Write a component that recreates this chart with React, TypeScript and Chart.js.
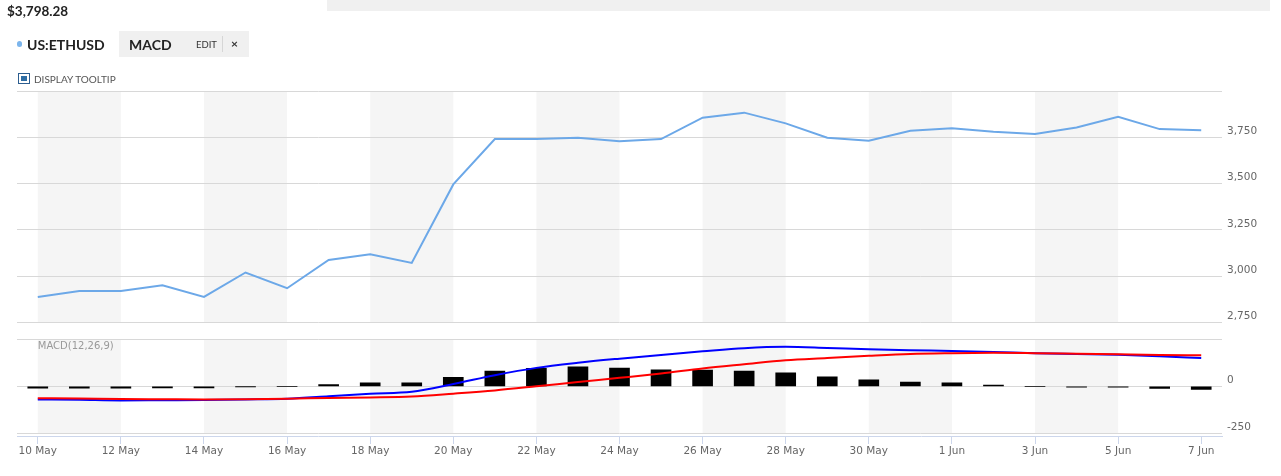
import React, { useEffect, useRef } from "react";
import { Chart, registerables } from "chart.js";

Chart.register(...registerables);

// ---- data (one entry per day, 10 May .. 7 Jun) ----
const dates = [
  "10 May", "11 May", "12 May", "13 May", "14 May", "15 May", "16 May", "17 May",
  "18 May", "19 May", "20 May", "21 May", "22 May", "23 May", "24 May", "25 May",
  "26 May", "27 May", "28 May", "29 May", "30 May", "31 May", "1 Jun", "2 Jun",
  "3 Jun", "4 Jun", "5 Jun", "6 Jun", "7 Jun",
];
const priceValues = [
  2887, 2919, 2919, 2950, 2887, 3019, 2934, 3087, 3118, 3071, 3495, 3740, 3740, 3747,
  3729, 3740, 3856, 3883, 3825, 3747, 3731, 3785, 3798, 3780, 3767, 3803, 3861, 3794, 3788,
];
const macdValues = [
  -70, -72, -75, -74, -73, -70, -66, -53, -39, -29, 12, 59, 98, 125, 147, 167, 186, 203,
  210, 204, 197, 192, 188, 183, 176, 172, 168, 160, 150,
];
const signalValues = [
  -63, -65, -68, -69, -70, -69, -66, -62, -59, -54, -39, -22, 0, 23, 45, 68, 95, 117,
  138, 150, 162, 172, 176, 178, 176, 173, 170, 167, 165,
];
const histogramValues = [
  -10, -10, -10, -9, -9, -1, 0, 9, 19, 18, 48, 81, 95, 104, 97, 88, 86, 81, 72, 50, 34,
  23, 18, 7, 0, -4, -4, -11, -16,
];
const xTickIndices = [0, 2, 4, 6, 8, 10, 12, 14, 16, 18, 20, 22, 24, 26, 28];
const priceTicks = [2750, 3000, 3250, 3500, 3750, 4000];
const macdTicks = [-250, 0, 250];
const bandStarts = [0, 4, 8, 12, 16, 20, 24];

const AXIS_FONT = { family: "'DejaVu Sans', sans-serif", size: 10.5 };

const panesPlugin = {
  id: "panes",
  beforeDraw(chart: any) {
    const { ctx, scales } = chart;
    const x = scales.x, y = scales.y, y2 = scales.y2;
    const panes = [
      [y.getPixelForValue(priceTicks[priceTicks.length - 1]), y.getPixelForValue(priceTicks[0])],
      [y2.getPixelForValue(macdTicks[macdTicks.length - 1]), y2.getPixelForValue(macdTicks[0])],
    ];
    ctx.save();
    ctx.fillStyle = "#f5f5f5";
    for (const s of bandStarts) {
      const x0 = x.getPixelForValue(s);
      const x1 = x.getPixelForValue(s + 2);
      for (const [t, b] of panes) ctx.fillRect(x0, t, x1 - x0, b - t);
    }
    ctx.restore();
  },
  afterDraw(chart: any) {
    const { ctx, scales } = chart;
    const x = scales.x, y2 = scales.y2;
    ctx.save();
    ctx.fillStyle = "#999";
    ctx.font = "10px 'DejaVu Sans', sans-serif";
    ctx.textBaseline = "middle";
    ctx.textAlign = "left";
    ctx.fillText("MACD(12,26,9)", x.getPixelForValue(0), y2.getPixelForValue(macdTicks[2]) + 7);
    ctx.restore();
  },
};

function ChartCanvas() {
  const ref = useRef<HTMLCanvasElement | null>(null);
  useEffect(() => {
    if (!ref.current) return;
    const chart = new Chart(ref.current, {
      type: "line",
      data: {
        datasets: [
          {
            type: "line",
            label: "US:ETHUSD",
            data: priceValues.map((v, i) => ({ x: i, y: v })),
            yAxisID: "y",
            borderColor: "#6ca8e8",
            borderWidth: 2,
            pointRadius: 0,
            tension: 0,
            order: 1,
          },
          {
            type: "line",
            label: "MACD",
            data: macdValues.map((v, i) => ({ x: i, y: v })),
            yAxisID: "y2",
            borderColor: "#0000ff",
            borderWidth: 2,
            pointRadius: 0,
            cubicInterpolationMode: "monotone",
            order: 1,
          },
          {
            type: "line",
            label: "Signal",
            data: signalValues.map((v, i) => ({ x: i, y: v })),
            yAxisID: "y2",
            borderColor: "#ff0000",
            borderWidth: 2,
            pointRadius: 0,
            cubicInterpolationMode: "monotone",
            order: 0,
          },
          {
            type: "bar",
            label: "Histogram",
            data: histogramValues.map((v, i) => ({ x: i, y: v })),
            yAxisID: "y2",
            backgroundColor: "#000000",
            barThickness: 20,
            order: 2,
          },
        ] as any,
      },
      options: {
        animation: false,
        responsive: true,
        maintainAspectRatio: false,
        events: [],
        layout: { padding: { left: 17, top: 91, right: 14, bottom: 10 } },
        plugins: { legend: { display: false }, tooltip: { enabled: false } },
        scales: {
          x: {
            type: "linear",
            min: -0.5,
            max: 28.5,
            offset: false,
            afterBuildTicks: (s: any) => {
              s.ticks = xTickIndices.map((v) => ({ value: v }));
            },
            afterFit: (s: any) => {
              s.height = 30;
            },
            grid: { offset: false, drawOnChartArea: false, drawTicks: true, tickLength: 8, color: "#ccd6eb" },
            border: { display: true, color: "#ccd6eb" },
            ticks: {
              autoSkip: false,
              maxRotation: 0,
              padding: 1,
              color: "#666",
              font: AXIS_FONT,
              callback: (v: any) => dates[v] ?? "",
            },
          },
          y: {
            type: "linear",
            position: "right",
            stack: "panes",
            stackWeight: 248.3,
            min: 2658,
            max: 4000,
            afterBuildTicks: (s: any) => {
              s.ticks = priceTicks.map((v) => ({ value: v }));
            },
            afterFit: (s: any) => {
              s.width = 45;
            },
            grid: { color: "#d8d8d8", drawTicks: false },
            border: { display: false },
            ticks: {
              padding: 5,
              labelOffset: -6,
              color: "#666",
              font: AXIS_FONT,
              callback: (v: any) => (v === 4000 ? "" : Number(v).toLocaleString("en-US")),
            },
          },
          y2: {
            type: "linear",
            position: "right",
            stack: "panes",
            stackWeight: 96.7,
            min: -264.4,
            max: 250,
            afterBuildTicks: (s: any) => {
              s.ticks = macdTicks.map((v) => ({ value: v }));
            },
            afterFit: (s: any) => {
              s.width = 45;
            },
            grid: { color: "#d8d8d8", drawTicks: false },
            border: { display: false },
            ticks: {
              padding: 5,
              labelOffset: -6,
              color: "#666",
              font: AXIS_FONT,
              callback: (v: any) => (v === 250 ? "" : String(v)),
            },
          },
        },
      } as any,
      plugins: [panesPlugin],
    });
    return () => chart.destroy();
  }, []);
  return <canvas ref={ref} />;
}

export default function App() {
  const lato = "Lato, 'Noto Sans', sans-serif";
  return (
    <div
      style={{
        position: "absolute",
        left: 0,
        top: 0,
        width: 1281,
        height: 476,
        background: "#fff",
        fontFamily: lato,
        overflow: "hidden",
      }}
    >
      <div style={{ position: "absolute", left: 0, top: 0, width: 1281, height: 476 }}>
        <ChartCanvas />
      </div>
      <div style={{ position: "absolute", left: 327, top: 0, width: 943, height: 11, background: "#f0f0f0" }} />
      <div
        style={{
          position: "absolute",
          left: 7,
          top: 3,
          fontSize: 13.5,
          fontWeight: 700,
          color: "#222",
          lineHeight: "normal",
          whiteSpace: "nowrap",
        }}
      >
        $3,798.28
      </div>
      <div
        style={{
          position: "absolute",
          left: 16.5,
          top: 41.3,
          width: 5.5,
          height: 5.5,
          borderRadius: "50%",
          background: "#7cb5ec",
        }}
      />
      <div
        style={{
          position: "absolute",
          left: 27,
          top: 35.5,
          fontSize: 14,
          fontWeight: 700,
          color: "#222",
          lineHeight: "normal",
          whiteSpace: "nowrap",
        }}
      >
        US:ETHUSD
      </div>
      <div style={{ position: "absolute", left: 119, top: 31, width: 130, height: 26, background: "#f0f0f0" }}>
        <div
          style={{
            position: "absolute",
            left: 10,
            top: 5,
            fontSize: 14,
            fontWeight: 700,
            color: "#222",
            lineHeight: "normal",
            whiteSpace: "nowrap",
          }}
        >
          MACD
        </div>
        <div
          style={{
            position: "absolute",
            left: 77,
            top: 7.5,
            fontSize: 9.5,
            color: "#333",
            lineHeight: "normal",
            whiteSpace: "nowrap",
          }}
        >
          EDIT
        </div>
        <div style={{ position: "absolute", left: 102.5, top: 5, width: 1, height: 16, background: "#d6d6d6" }} />
        <div
          style={{
            position: "absolute",
            left: 112,
            top: 4.5,
            fontSize: 12,
            fontWeight: 700,
            color: "#333",
            lineHeight: "normal",
            whiteSpace: "nowrap",
          }}
        >
          ×
        </div>
      </div>
      <div
        style={{
          position: "absolute",
          left: 18,
          top: 73,
          width: 12,
          height: 11,
          boxSizing: "border-box",
          border: "1.3px solid #2c5d8f",
        }}
      >
        <div style={{ position: "absolute", left: 1.7, top: 1.7, width: 6, height: 5.5, background: "#2e6da4" }} />
      </div>
      <div
        style={{
          position: "absolute",
          left: 34,
          top: 72.5,
          fontSize: 10,
          color: "#555",
          lineHeight: "normal",
          whiteSpace: "nowrap",
        }}
      >
        DISPLAY TOOLTIP
      </div>
    </div>
  );
}
